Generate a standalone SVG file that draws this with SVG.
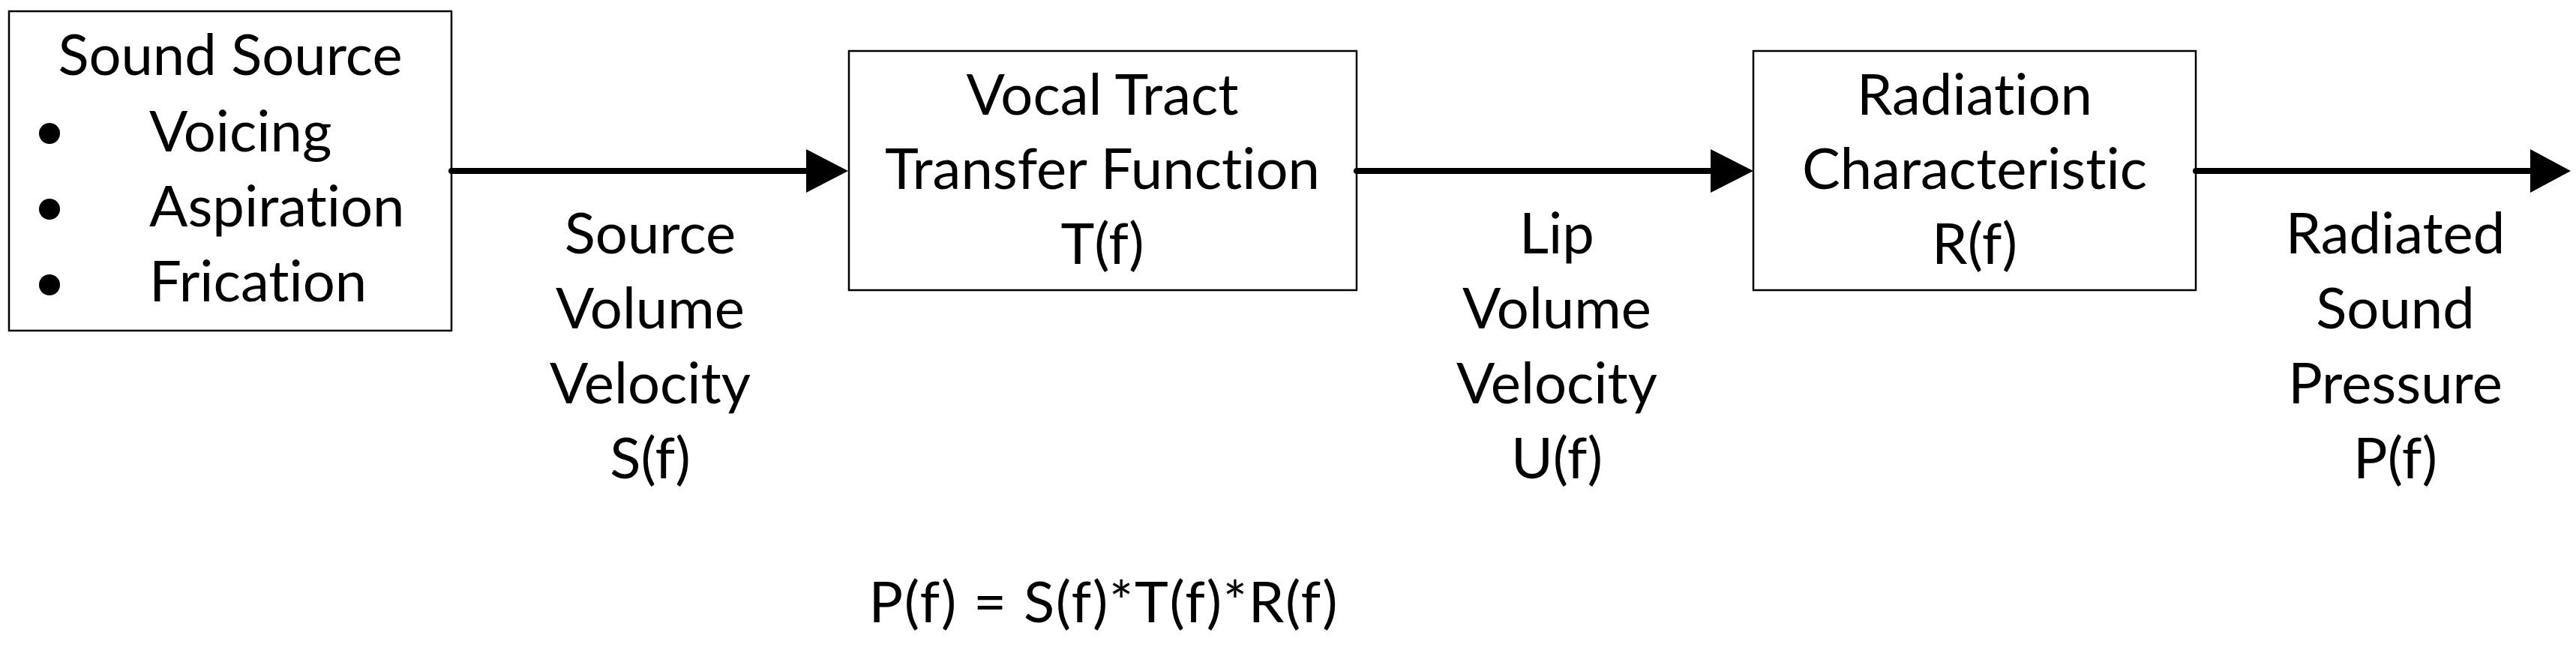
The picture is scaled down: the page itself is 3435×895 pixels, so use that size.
<svg xmlns="http://www.w3.org/2000/svg" width="3435" height="895" viewBox="0 0 3435 895">
<style>
  .box { fill: #ffffff; stroke: #000000; stroke-width: 2.5; }
  .t { font-family: Lato, "Liberation Sans", sans-serif; font-size: 76px; fill: #000000; text-anchor: middle; font-variant-ligatures: none; }
  .tl { font-family: Lato, "Liberation Sans", sans-serif; font-size: 76px; fill: #000000; text-anchor: start; font-variant-ligatures: none; }
  .wire { stroke: #000000; stroke-width: 8; stroke-linecap: round; fill: none; }
  .head { fill: #000000; }
</style>
<rect width="3435" height="895" fill="#ffffff"/>
<g id="sound-source">
  <rect class="box" x="12" y="15" width="590" height="426"/>
  <text class="t" x="307" y="100">Sound Source</text>
  <circle cx="66" cy="178" r="14"/>
  <circle cx="66" cy="279" r="14"/>
  <circle cx="66" cy="380" r="14"/>
  <text class="tl" x="199" y="202">Voicing</text>
  <text class="tl" x="199" y="302">Aspiration</text>
  <text class="tl" x="199" y="402">Frication</text>
</g>
<g id="vocal-tract">
  <rect class="box" x="1132" y="68" width="677" height="319"/>
  <text class="t" x="1470" y="153">Vocal Tract</text>
  <text class="t" x="1470" y="252">Transfer Function</text>
  <text class="t" x="1470" y="352">T(f)</text>
</g>
<g id="radiation">
  <rect class="box" x="2338" y="68" width="590" height="319"/>
  <text class="t" x="2633" y="153">Radiation</text>
  <text class="t" x="2633" y="252">Characteristic</text>
  <text class="t" x="2633" y="352">R(f)</text>
</g>
<g id="connectors">
  <line class="wire" x1="602" y1="228" x2="1080" y2="228"/>
  <polygon class="head" points="1075,199 1131,228 1075,257"/>
  <line class="wire" x1="1809" y1="228" x2="2286" y2="228"/>
  <polygon class="head" points="2281,199 2338,228 2281,257"/>
  <line class="wire" x1="2928" y1="228" x2="3379" y2="228"/>
  <polygon class="head" points="3374,199 3428,228 3374,257"/>
</g>
<g id="label-source">
  <text class="t" x="867" y="338">Source</text>
  <text class="t" x="867" y="438">Volume</text>
  <text class="t" x="867" y="538">Velocity</text>
  <text class="t" x="867" y="638">S(f)</text>
</g>
<g id="label-lip">
  <text class="t" x="2076" y="338">Lip</text>
  <text class="t" x="2076" y="438">Volume</text>
  <text class="t" x="2076" y="538">Velocity</text>
  <text class="t" x="2076" y="638">U(f)</text>
</g>
<g id="label-radiated">
  <text class="t" x="3194" y="338">Radiated</text>
  <text class="t" x="3194" y="438">Sound</text>
  <text class="t" x="3194" y="538">Pressure</text>
  <text class="t" x="3194" y="638">P(f)</text>
</g>
<g id="equation">
  <text class="t" x="1471" y="830" textLength="625" lengthAdjust="spacing">P(f) = S(f)*T(f)*R(f)</text>
</g>
</svg>
